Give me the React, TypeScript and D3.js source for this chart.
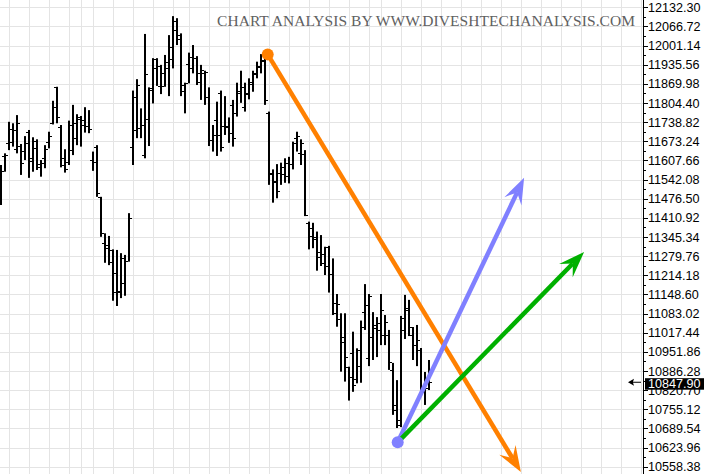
import React from "react";
import * as d3 from "d3";

const W = 704;
const H = 474;

// OHLC values (daily bars)
const opens = [
  11463, 11623, 11668, 11714, 11646, 11657, 11640, 11704, 11615, 11649,
  11594, 11615, 11672, 11737, 11858, 11722, 11615, 11603, 11643, 11684,
  11749, 11729, 11726, 11609, 11655, 11481, 11324, 11318, 11261, 11223,
  11161, 11187, 11264, 11653, 11712, 11719, 11626, 11750, 11855, 11955,
  11863, 11863, 11923, 11954, 12054, 12037, 11866, 11938, 11963, 11959,
  11877, 11908, 11826, 11678, 11746, 11838, 11726, 11726, 11798, 11771,
  11847, 11790, 11838, 11877, 11904, 11931, 11949, 11770, 11564, 11535,
  11566, 11586, 11554, 11595, 11684, 11634, 11630, 11393, 11375, 11344,
  11295, 11287, 11310, 11219, 11120, 11063, 11004, 10899, 10949, 10858,
  10903, 11089, 10930, 11004, 11044, 11027, 11010, 11010, 10890, 10753,
  10701, 11068, 11102, 11010, 10975, 10958, 10814, 10828,
];
const highs = [
  11592, 11632, 11740, 11735, 11763, 11664, 11691, 11712, 11687, 11680,
  11609, 11660, 11706, 11812, 11860, 11729, 11646, 11744, 11798, 11766,
  11760, 11790, 11780, 11638, 11660, 11483, 11358, 11349, 11303, 11301,
  11290, 11284, 11427, 11847, 11886, 11786, 12041, 11858, 11958, 11958,
  11935, 11969, 12037, 12102, 12095, 12043, 11874, 11977, 12003, 11965,
  11935, 11915, 11858, 11729, 11809, 11847, 11828, 11755, 11815, 11874,
  11915, 11874, 11889, 11915, 11946, 11972, 11972, 11775, 11577, 11595,
  11600, 11615, 11620, 11672, 11706, 11680, 11643, 11398, 11394, 11364,
  11352, 11312, 11315, 11272, 11150, 11084, 11084, 10901, 11021, 10964,
  11059, 11184, 11150, 11088, 11071, 11150, 11078, 11027, 10914, 10855,
  11075, 11147, 11130, 11037, 11044, 10965, 10883, 10924,
];
const lows = [
  11455, 11569, 11643, 11655, 11632, 11558, 11609, 11548, 11569, 11575,
  11552, 11581, 11649, 11731, 11735, 11584, 11566, 11592, 11626, 11660,
  11655, 11703, 11701, 11572, 11483, 11346, 11257, 11249, 11127, 11109,
  11136, 11144, 11261, 11592, 11684, 11684, 11615, 11657, 11803, 11863,
  11835, 11860, 11828, 11923, 12003, 11828, 11769, 11872, 11906, 11866,
  11815, 11798, 11657, 11638, 11623, 11638, 11695, 11668, 11655, 11758,
  11805, 11775, 11817, 11843, 11889, 11906, 11798, 11524, 11463, 11478,
  11524, 11531, 11529, 11577, 11638, 11592, 11417, 11303, 11307, 11230,
  11246, 11215, 11155, 11078, 11038, 10884, 10850, 10785, 10815, 10844,
  10846, 11027, 10903, 10924, 10934, 10975, 10975, 10890, 10736, 10691,
  10694, 10996, 11006, 10924, 10903, 10804, 10770, 10821,
];
const closes = [
  11572, 11626, 11670, 11712, 11735, 11598, 11668, 11606, 11674, 11584,
  11598, 11646, 11691, 11790, 11755, 11592, 11577, 11729, 11737, 11758,
  11746, 11726, 11714, 11603, 11497, 11360, 11307, 11301, 11156, 11158,
  11272, 11264, 11409, 11826, 11866, 11729, 11904, 11849, 11923, 11931,
  11906, 11946, 11997, 12086, 12023, 11847, 11872, 11923, 11960, 11906,
  11918, 11912, 11678, 11695, 11695, 11655, 11722, 11701, 11684, 11840,
  11860, 11835, 11870, 11908, 11929, 11952, 11815, 11561, 11538, 11504,
  11561, 11598, 11595, 11666, 11691, 11668, 11421, 11349, 11337, 11276,
  11255, 11246, 11219, 11086, 11116, 10987, 10933, 10865, 10838, 10958,
  11038, 11112, 11143, 11033, 11052, 11095, 11054, 10917, 10770, 10718,
  11027, 11095, 11037, 10975, 10993, 10828, 10849, 10847.9,
];

// price axis tick labels
const tickLabels = [
  "10558.38", "10623.96", "10689.54", "10755.12", "10820.70", "10886.28",
  "10951.86", "11017.44", "11083.02", "11148.60", "11214.18", "11279.76",
  "11345.34", "11410.92", "11476.50", "11542.08", "11607.66", "11673.24",
  "11738.82", "11804.40", "11869.98", "11935.56", "12001.14", "12066.72",
  "12132.30",
];

// bar indices where a new week starts (vertical grid)
const weekStarts = [
  2, 7, 12, 17, 20, 23, 28, 33, 38, 43, 47, 52, 57, 62, 67, 72, 77, 82, 87,
  92, 95, 100, 105, 110, 115, 120, 125, 130, 135, 140, 145, 150, 155, 160,
];

const lastPrice = 10847.9;
const titleText = "CHART ANALYSIS BY WWW.DIVESHTECHANALYSIS.COM";

// drawn trend arrows
const arrowNames = ["orange", "blue", "green"];
const arrowColors = ["#FF8000", "#8080FF", "#00B000"];
const arrowStartIdx = [66.6, 99.1, 99.1];
const arrowStartPrice = [11971, 10642, 10642];
const arrowEndIdx = [129.9, 130.7, 145.7];
const arrowEndPrice = [10540, 11548, 11294];
const arrowDots = [true, true, false];

const AXIS_X = 643;

export default function App() {
  const x = d3.scaleLinear().domain([0, 160]).range([1.3, 641.3]);
  const y = d3.scaleLinear().domain([10533.4, 12157.3]).range([H, 0]);

  const tickVals = tickLabels.map((t) => +t);
  const minorVals: number[] = [];
  for (let k = 0; k < tickVals.length; k++) {
    const a = tickVals[k];
    const b = k + 1 < tickVals.length ? tickVals[k + 1] : a + (a - tickVals[k - 1]);
    minorVals.push((a + b) / 2);
  }
  minorVals.push(tickVals[0] - (tickVals[1] - tickVals[0]) / 2);

  const yP = y(lastPrice);

  const arrowHead = (ax: number, ay: number, bx: number, by: number) => {
    const dx = bx - ax;
    const dy = by - ay;
    const len = Math.hypot(dx, dy);
    const ux = dx / len;
    const uy = dy / len;
    const nx = -uy;
    const ny = ux;
    const L = 26;
    const Wd = 9.5;
    const p1 = [bx, by];
    const p2 = [bx - L * ux + Wd * nx, by - L * uy + Wd * ny];
    const p3 = [bx - 0.62 * L * ux, by - 0.62 * L * uy];
    const p4 = [bx - L * ux - Wd * nx, by - L * uy - Wd * ny];
    return {
      path: `M${p1[0]},${p1[1]}L${p2[0]},${p2[1]}L${p3[0]},${p3[1]}L${p4[0]},${p4[1]}Z`,
      lineEnd: p3,
    };
  };

  return (
    <svg
      width={W}
      height={H}
      style={{ position: "absolute", left: 0, top: 0, background: "#fff", display: "block" }}
    >
      <rect x={0} y={0} width={W} height={H} fill="#fff" />
      {tickVals.map((v, k) => (
        <line
          key={"hg" + k}
          x1={0}
          x2={AXIS_X}
          y1={Math.round(y(v)) + 0.5}
          y2={Math.round(y(v)) + 0.5}
          stroke="#e4e4e4"
          strokeWidth={1}
        />
      ))}
      {weekStarts.map((i) => (
        <line
          key={"vg" + i}
          x1={Math.round(x(i)) + 0.5}
          x2={Math.round(x(i)) + 0.5}
          y1={0}
          y2={H}
          stroke="#e4e4e4"
          strokeWidth={1}
        />
      ))}

      <text
        x={217}
        y={25.5}
        fontFamily="'Liberation Serif', 'DejaVu Serif', serif"
        fontSize={15.5}
        fill="#606060"
        textLength={418}
        lengthAdjust="spacing"
      >
        {titleText}
      </text>

      {highs.map((h, i) => {
        const bx = Math.round(x(i) - 1);
        const yh = y(h);
        const yl = y(lows[i]);
        return (
          <g key={"b" + i} fill="#000">
            <rect x={bx} y={yh} width={2} height={Math.max(1, yl - yh)} />
            <rect x={bx - 2} y={Math.round(y(opens[i]))} width={2} height={1} />
            <rect x={bx + 2} y={Math.round(y(closes[i]))} width={2} height={1} />
          </g>
        );
      })}

      {arrowNames.map((name, k) => {
        const ax = x(arrowStartIdx[k]);
        const ay = y(arrowStartPrice[k]);
        const bx = x(arrowEndIdx[k]);
        const by = y(arrowEndPrice[k]);
        const head = arrowHead(ax, ay, bx, by);
        return (
          <g key={name}>
            <line
              x1={ax}
              y1={ay}
              x2={head.lineEnd[0]}
              y2={head.lineEnd[1]}
              stroke={arrowColors[k]}
              strokeWidth={4.5}
            />
            <path d={head.path} fill={arrowColors[k]} />
          </g>
        );
      })}
      {arrowNames.map((name, k) =>
        arrowDots[k] ? (
          <circle
            key={"dot" + name}
            cx={x(arrowStartIdx[k])}
            cy={y(arrowStartPrice[k])}
            r={6}
            fill={arrowColors[k]}
          />
        ) : null
      )}

      <line x1={AXIS_X + 0.5} x2={AXIS_X + 0.5} y1={0} y2={H} stroke="#000" strokeWidth={1} />
      {tickVals.map((v, k) => (
        <line
          key={"mt" + k}
          x1={AXIS_X}
          x2={AXIS_X + 5}
          y1={Math.round(y(v)) + 0.5}
          y2={Math.round(y(v)) + 0.5}
          stroke="#000"
        />
      ))}
      {minorVals.map((v, k) => (
        <line
          key={"nt" + k}
          x1={AXIS_X}
          x2={AXIS_X + 3}
          y1={Math.round(y(v)) + 0.5}
          y2={Math.round(y(v)) + 0.5}
          stroke="#000"
        />
      ))}
      {tickLabels.map((t, k) => (
        <text
          key={"tl" + k}
          x={648}
          y={y(tickVals[k]) + 4.6}
          fontFamily="'Liberation Sans', Arial, sans-serif"
          fontSize={12.6}
          fill="#000"
        >
          {t}
        </text>
      ))}

      <path
        d={`M${628},${yP} L${634},${yP - 3.5} L${633},${yP - 0.5} L${641},${yP - 0.5} L${641},${yP + 0.5} L${633},${yP + 0.5} L${634},${yP + 3.5} Z`}
        fill="#000"
      />
      <rect x={645} y={yP - 4} width={W - 645} height={11.5} fill="#000" />
      <text
        x={648}
        y={yP + 6}
        fontFamily="'Liberation Sans', Arial, sans-serif"
        fontSize={12.6}
        fill="#fff"
      >
        {lastPrice.toFixed(2)}
      </text>
    </svg>
  );
}
